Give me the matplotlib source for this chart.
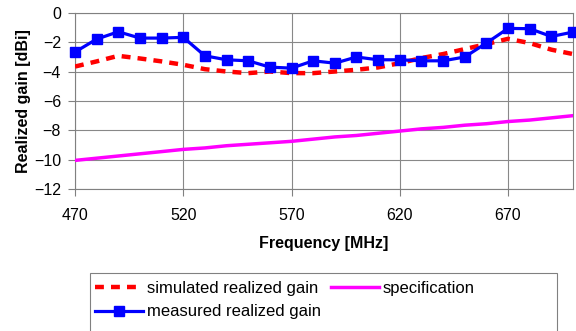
import matplotlib
matplotlib.use("Agg")
import matplotlib.pyplot as plt
from matplotlib.patches import Rectangle

plt.rcParams['font.family'] = ['Liberation Sans', 'DejaVu Sans']

freq = [470, 480, 490, 500, 510, 520, 530, 540, 550, 560, 570, 580,
        590, 600, 610, 620, 630, 640, 650, 660, 670, 680, 690, 700]
simulated = [-3.65, -3.3, -2.92, -3.1, -3.3, -3.53, -3.83, -3.99, -4.1, -3.99, -4.1, -4.1,
             -3.99, -3.87, -3.71, -3.42, -3.07, -2.8, -2.46, -2.12, -1.76, -2.05, -2.5, -2.8]
measured = [-2.66, -1.78, -1.28, -1.71, -1.71, -1.66, -2.92, -3.19, -3.26, -3.69, -3.76, -3.26,
            -3.42, -3.0, -3.19, -3.19, -3.26, -3.26, -3.0, -2.05, -1.05, -1.07, -1.6, -1.3]
specification = [-10.05, -9.9, -9.75, -9.6, -9.45, -9.3, -9.2, -9.05, -8.95, -8.85, -8.75, -8.6,
                 -8.45, -8.35, -8.2, -8.05, -7.9, -7.8, -7.65, -7.55, -7.4, -7.3, -7.15, -7.0]
xticks = [470, 520, 570, 620, 670]
yticks = [0, -2, -4, -6, -8, -10, -12]

W, H = 576, 331
fig = plt.figure(figsize=(W / 100, H / 100), dpi=100)
ax = fig.add_axes([75 / W, 1 - 189 / H, (573 - 75) / W, (189 - 13) / H])

ax.plot(freq, simulated, color='#ff0000', lw=3.2, ls=(0, (2.0, 1.6)),
        label='simulated realized gain', zorder=3)
ax.plot(freq, measured, color='#0000ff', lw=2.3, marker='s', ms=7,
        label='measured realized gain', zorder=4, clip_on=False)
ax.plot(freq, specification, color='#ff00ff', lw=2.5,
        label='specification', zorder=3)

ax.set_xlim(470, 700)
ax.set_ylim(-12, 0)
ax.set_xticks(xticks)
ax.set_yticks(yticks)
ax.grid(True, color='#888888', lw=0.8)
ax.set_axisbelow(True)
for s in ax.spines.values():
    s.set_color('#808080')
ax.tick_params(direction='out', length=5, color='#808080', labelsize=11.5, pad=5)
ax.tick_params(axis='x', pad=9)

ax.set_xlabel('Frequency [MHz]', fontsize=11.5, fontweight='bold', labelpad=9)
ax.set_ylabel('Realized gain [dBi]', fontsize=11.5, fontweight='bold', labelpad=2)

handles, labels = ax.get_legend_handles_labels()
leg = fig.legend(handles, labels,
                 ncol=2, loc='upper left', bbox_to_anchor=(95 / W, 1 - 281 / H),
                 frameon=False, fontsize=12, handlelength=2.9,
                 handletextpad=0.2, columnspacing=0.6, borderpad=0.0,
                 borderaxespad=0.0, labelspacing=0.5)
fig.patches.append(Rectangle((90 / W, -0.05), (557 - 90) / W, 1 - 273 / H + 0.05,
                             transform=fig.transFigure, fill=False,
                             edgecolor='#808080', lw=0.8))

fig.savefig('out.png', dpi=100)
